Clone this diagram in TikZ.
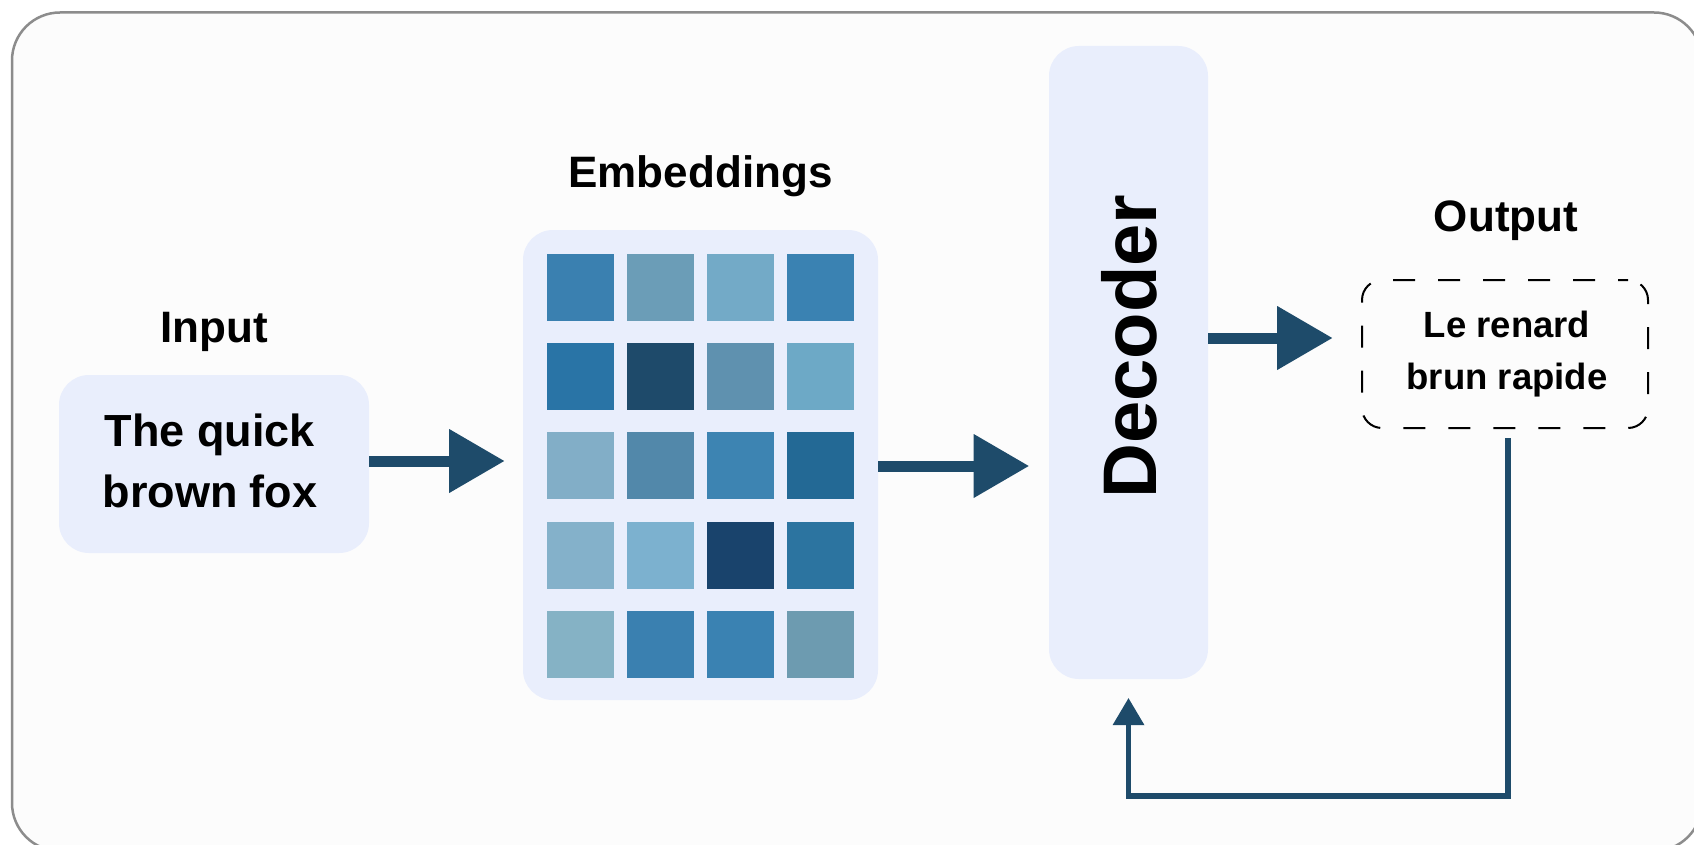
\documentclass[tikz,border=0pt]{standalone}
\usepackage{fontspec}
\setmainfont{Liberation Sans}
\usetikzlibrary{arrows.meta}
\definecolor{arrowc}{HTML}{1E4B6A}
\definecolor{boxc}{HTML}{E9EEFC}
\definecolor{framec}{HTML}{8C8C8C}
\definecolor{bgc}{HTML}{FCFCFC}
\definecolor{ca}{HTML}{3A80B0}
\definecolor{cb}{HTML}{6B9DB7}
\definecolor{cc}{HTML}{73AAC7}
\definecolor{cd}{HTML}{3A82B2}
\definecolor{ce}{HTML}{2974A6}
\definecolor{cf}{HTML}{1E4A6A}
\definecolor{cg}{HTML}{5F91AF}
\definecolor{ch}{HTML}{6DA9C6}
\definecolor{ci}{HTML}{82AEC7}
\definecolor{cj}{HTML}{5288AA}
\definecolor{ck}{HTML}{3D84B2}
\definecolor{cl}{HTML}{236995}
\definecolor{cm}{HTML}{84B1CA}
\definecolor{cn}{HTML}{7CB1CF}
\definecolor{co}{HTML}{19436C}
\definecolor{cp}{HTML}{2C74A0}
\definecolor{cq}{HTML}{85B2C5}
\definecolor{cr}{HTML}{3A80B0}
\definecolor{cs}{HTML}{3A82B2}
\definecolor{ct}{HTML}{6D9BB0}
\begin{document}
\begin{tikzpicture}[x=1pt,y=-1pt,
  box/.style={fill=boxc, draw=none, rounded corners=30pt, inner sep=0pt},
  lbl/.style={font=\bfseries\fontsize{44}{50}\selectfont, anchor=base, inner sep=0pt},
  arr/.style={draw=arrowc, line width=11pt, -{Triangle[length=55pt,width=64pt,line width=0pt]}},
  fb/.style={draw=arrowc, line width=5.5pt, line join=miter, -{Triangle[length=27pt,width=32pt,line width=0pt]}},
  cell/.style={minimum width=67pt, minimum height=67pt, inner sep=0pt, anchor=north west, draw=none}]
\useasboundingbox (0,0) rectangle (1694,845);
\fill[white] (0,0) rectangle (1694,845);
\begin{scope}
\clip (0,0) rectangle (1694,845);
\draw[draw=framec, fill=bgc, line width=2.5pt, rounded corners=48pt] (12,12.5) rectangle (1702,851);
\end{scope}

% Input
\node[lbl] (inlbl) at (214,342) {Input};
\node[box, minimum width=310pt, minimum height=178pt] (inbox) at (214,464) {};
\node[font=\bfseries\fontsize{45}{61}\selectfont, anchor=base, inner sep=0pt] (intext) at (210,446)
  {\begin{tabular}[t]{@{}c@{}}The quick\\brown fox\end{tabular}};

% Embeddings
\node[lbl] (emblbl) at (700.5,188) {Embeddings};
\node[box, minimum width=355pt, minimum height=470pt] (emb) at (700.5,465) {};
\node[cell, fill=ca] (e11) at (547,254) {};
\node[cell, fill=cb] (e12) at (627,254) {};
\node[cell, fill=cc] (e13) at (707,254) {};
\node[cell, fill=cd] (e14) at (787,254) {};
\node[cell, fill=ce] (e21) at (547,343) {};
\node[cell, fill=cf] (e22) at (627,343) {};
\node[cell, fill=cg] (e23) at (707,343) {};
\node[cell, fill=ch] (e24) at (787,343) {};
\node[cell, fill=ci] (e31) at (547,432) {};
\node[cell, fill=cj] (e32) at (627,432) {};
\node[cell, fill=ck] (e33) at (707,432) {};
\node[cell, fill=cl] (e34) at (787,432) {};
\node[cell, fill=cm] (e41) at (547,522) {};
\node[cell, fill=cn] (e42) at (627,522) {};
\node[cell, fill=co] (e43) at (707,522) {};
\node[cell, fill=cp] (e44) at (787,522) {};
\node[cell, fill=cq] (e51) at (547,611) {};
\node[cell, fill=cr] (e52) at (627,611) {};
\node[cell, fill=cs] (e53) at (707,611) {};
\node[cell, fill=ct] (e54) at (787,611) {};

% Decoder
\node[box, minimum width=159pt, minimum height=633pt] (dec) at (1128.5,362.5) {};
\node[font=\bfseries\fontsize{76}{80}\selectfont, rotate=90, inner sep=0pt] (dectext) at (1129.5,346.5) {Decoder};

% Output
\node[lbl] (outlbl) at (1506,232) {Output};
\node[draw=black, line width=2pt, dash pattern=on 22pt off 23pt, dash phase=12pt, rounded corners=20pt,
      minimum width=286pt, minimum height=148pt, inner sep=0pt] (outbox) at (1505,354) {};
\node[font=\bfseries\fontsize{36.5}{52}\selectfont, anchor=base, inner sep=0pt] (outtext) at (1507,337)
  {\begin{tabular}[t]{@{}c@{}}Le renard\\brun rapide\end{tabular}};

% Arrows
\draw[arr] ([yshift=3pt]inbox.east) -- ++(135,0);
\draw[arr] ([yshift=-1pt]emb.east) -- ++(150.5,0);
\draw[arr] ([yshift=24.5pt]dec.east) -- ++(124,0);
\draw[fb] ([xshift=3pt,yshift=-9pt]outbox.south) |- ([yshift=-117pt]dec.south) -- ([yshift=-19pt]dec.south);
\end{tikzpicture}
\end{document}
